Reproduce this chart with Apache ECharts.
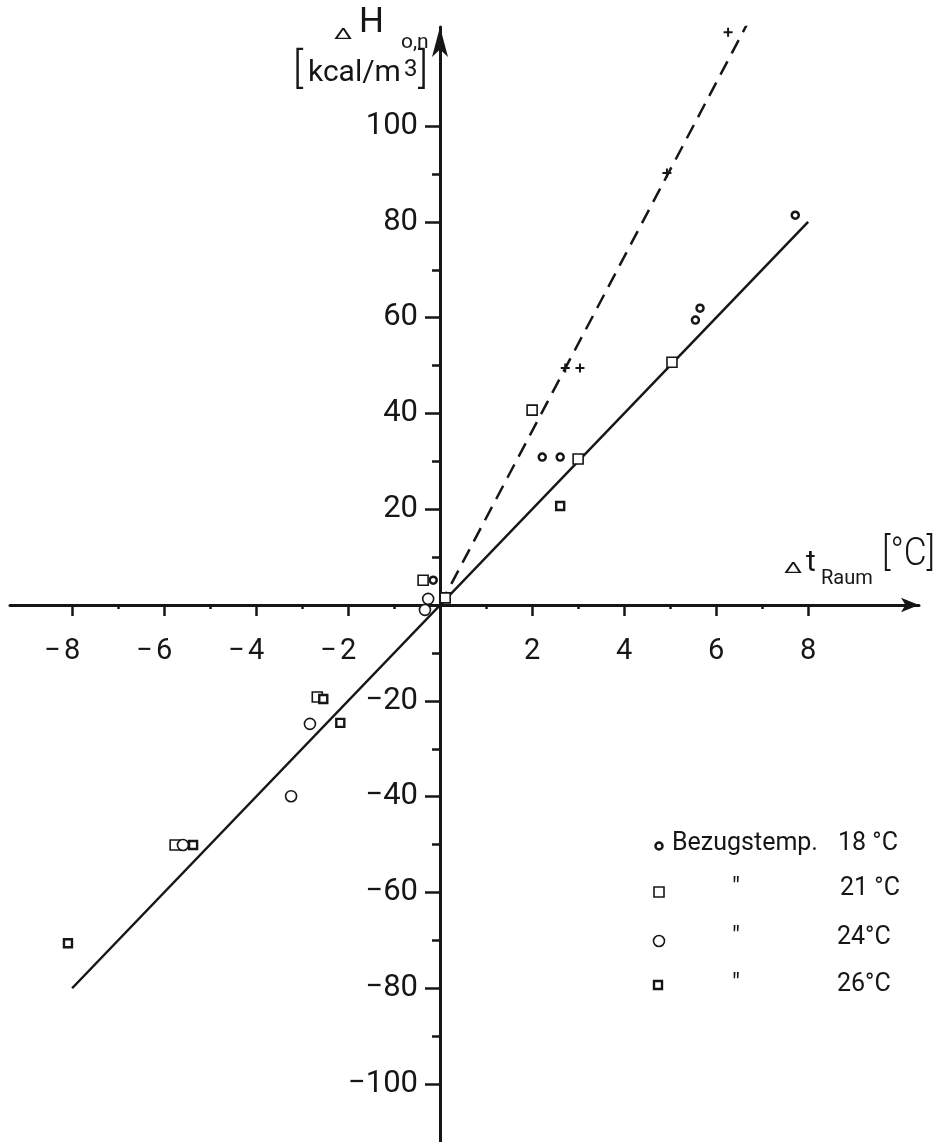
<!DOCTYPE html>
<html>
<head>
<meta charset="utf-8">
<script src="https://cdn.jsdelivr.net/npm/echarts@6/dist/echarts.min.js"></script>
<style>
  html, body { margin: 0; background: #fff; }
  #chart { width: 939px; height: 1142px; }
</style>
</head>
<body>
<div id="chart"></div>
<script>
// axis ticks / labels
const xTickValues = [-8, -6, -4, -2, 2, 4, 6, 8]
const xMinorValues = [-7, -5, -3, -1, 1, 3, 5, 7]
const yTickValues = [-100, -80, -60, -40, -20, 20, 40, 60, 80, 100]
const yMinorValues = [-90, -70, -50, -30, -10, 10, 30, 50, 70, 90]

// fitted lines
const solidFit = [[-8, -80], [8, 80]]
const dashedFit = [[0, 0], [6.74, 122.5]]

// measured points, grouped by reference temperature
const temp18 = [[7.72, 81.4], [5.55, 59.5], [5.65, 62], [2.22, 30.9], [2.61, 30.9], [-0.15, 5.2]]
const temp21 = [[3.0, 30.5], [5.04, 50.7], [2.0, 40.7], [-0.37, 5.2], [0.11, 1.5], [-2.67, -19.2], [-5.76, -50.1]]
const temp24 = [[-2.83, -24.8], [-3.24, -39.9], [-0.26, 1.3], [-0.33, -1.0], [-5.59, -50.1]]
const temp26 = [[2.61, 20.7], [-2.17, -24.6], [-8.09, -70.6], [-2.54, -19.6], [-5.37, -50.1]]
const plusPoints = [[6.26, 119.6], [4.93, 90.2], [2.72, 49.5], [3.04, 49.5]]

const legendRows = [
  { name: 'Bezugstemp.', temp: '18 °C' },
  { name: '\u2033', temp: '21 °C' },
  { name: '\u2033', temp: '24°C' },
  { name: '\u2033', temp: '26°C' }
]

const FONT = 'Roboto'
const INK = '#161616'

const X_MIN = -9.35, X_MAX = 10.41
const Y_MIN = -112.1, Y_MAX = 120.7

// where the two axes cross, in pixels (grid left 10, grid bottom at 1142)
const X_AXIS_OFFSET = -537
const Y_AXIS_OFFSET = -430

const minus = v => (v < 0 ? '\u2212' + Math.abs(v) : String(v))

let chart = echarts.init(document.getElementById('chart'), null, { renderer: 'canvas' })

const markerStyle = (w) => ({ color: '#fff', borderColor: INK, borderWidth: w, opacity: 1 })
const txt = (x, y, text, font, extra) => Object.assign(
  { type: 'text', x, y, style: { text, font: font + ' ' + FONT, fill: INK, verticalAlign: 'middle' } },
  extra || {}
)

chart.setOption({
  animation: false,
  backgroundColor: '#fff',
  grid: { left: 10, right: 20, top: 27, bottom: 0, containLabel: false, outerBoundsMode: 'none' },
  xAxis: [
    {
      type: 'value', min: X_MIN, max: X_MAX, position: 'bottom', offset: X_AXIS_OFFSET,
      splitLine: { show: false },
      axisLine: {
        onZero: false,
        lineStyle: { color: INK, width: 3 },
        symbol: ['none', 'arrow'], symbolSize: [11, 18]
      },
      axisTick: { customValues: xTickValues, length: 11, lineStyle: { color: INK, width: 2.5 } },
      axisLabel: {
        customValues: xTickValues,
        margin: 32,
        color: INK,
        fontFamily: FONT,
        fontSize: 29,
        formatter: v => '{l|' + (v < 0 ? '\u2212\u200a' : ' ') + '}{d|' + Math.abs(v) + '}{r| }',
        rich: {
          l: { width: 20, align: 'right', fontFamily: FONT, fontSize: 29, color: INK },
          d: { fontFamily: FONT, fontSize: 29, color: INK },
          r: { width: 20, fontFamily: FONT, fontSize: 29 }
        }
      }
    },
    {
      // minor tick dots
      type: 'value', min: X_MIN, max: X_MAX, position: 'bottom', offset: X_AXIS_OFFSET,
      splitLine: { show: false },
      axisLine: { show: false, onZero: false },
      axisTick: { customValues: xMinorValues, length: 4, lineStyle: { color: INK, width: 2.5 } },
      axisLabel: { show: false }
    }
  ],
  yAxis: [
    {
      type: 'value', min: Y_MIN, max: Y_MAX, position: 'left', offset: Y_AXIS_OFFSET,
      splitLine: { show: false },
      axisLine: {
        onZero: false,
        lineStyle: { color: INK, width: 3 },
        symbol: ['none', 'arrow'], symbolSize: [12, 30]
      },
      axisTick: { customValues: yTickValues, length: 15, lineStyle: { color: INK, width: 2.5 } },
      axisLabel: {
        customValues: yTickValues,
        margin: 22,
        color: INK,
        fontFamily: FONT,
        fontSize: 31,
        formatter: minus
      }
    },
    {
      type: 'value', min: Y_MIN, max: Y_MAX, position: 'left', offset: Y_AXIS_OFFSET,
      splitLine: { show: false },
      axisLine: { show: false, onZero: false },
      axisTick: { customValues: yMinorValues, length: 8, lineStyle: { color: INK, width: 2.5 } },
      axisLabel: { show: false }
    }
  ],
  series: [
    {
      type: 'line', data: solidFit, symbol: 'none',
      lineStyle: { color: INK, width: 2.5 }
    },
    {
      type: 'line', data: dashedFit, symbol: 'none',
      lineStyle: { color: INK, width: 2.5, type: [15, 9] }
    },
    {
      name: '18 °C', type: 'scatter', data: temp18, symbol: 'circle', symbolSize: 7,
      itemStyle: markerStyle(2.5), z: 5
    },
    {
      name: '21 °C', type: 'scatter', data: temp21, symbol: 'rect', symbolSize: 10,
      itemStyle: markerStyle(1.6), z: 5
    },
    {
      name: '24°C', type: 'scatter', data: temp24, symbol: 'circle', symbolSize: 11,
      itemStyle: markerStyle(1.6), z: 5
    },
    {
      name: '26°C', type: 'scatter', data: temp26, symbol: 'rect', symbolSize: 8,
      itemStyle: markerStyle(2.4), z: 5
    },
    {
      type: 'scatter', data: plusPoints, symbol: 'path://M0,5H10M5,0V10', symbolSize: 9,
      itemStyle: { color: 'none', borderColor: INK, borderWidth: 2, opacity: 1 }, z: 5
    }
  ],
  graphic: [
    // y axis title
    txt(334, 35, '\u0394', '20px', { scaleX: 1.3, scaleY: 0.7 }),
    txt(359, 23, 'H', '35px'),
    txt(401, 43, 'o,n', '21px'),
    txt(293, 71, '[', '300 42px'),
    txt(308, 73, 'kcal/m', '30px'),
    txt(404, 70, '3', '24px'),
    txt(418, 71, ']', '300 42px'),
    // x axis title
    txt(784, 569, '\u0394', '20px', { scaleX: 1.3, scaleY: 0.75 }),
    txt(806, 563, 't', '30px'),
    txt(821, 579, 'Raum', '20px'),
    txt(882, 555, '[°C]', '300 38px', { scaleX: 0.93 }),
    // legend
    { type: 'circle', shape: { cx: 659, cy: 846, r: 3.5 }, style: { fill: '#fff', stroke: INK, lineWidth: 2.5 } },
    { type: 'rect', shape: { x: 654, y: 887, width: 10, height: 10 }, style: { fill: '#fff', stroke: INK, lineWidth: 1.6 } },
    { type: 'circle', shape: { cx: 659, cy: 941, r: 5.5 }, style: { fill: '#fff', stroke: INK, lineWidth: 1.6 } },
    { type: 'rect', shape: { x: 654, y: 981, width: 8, height: 8 }, style: { fill: '#fff', stroke: INK, lineWidth: 2.4 } },
    ...legendRows.map((row, i) => txt(i === 0 ? 672 : 732, [844, 889, 938, 985][i], row.name, '25px')),
    ...legendRows.map((row, i) => txt([838, 840, 837, 837][i], [844, 889, 938, 985][i], row.temp, '25px'))
  ]
})
</script>
</body>
</html>
